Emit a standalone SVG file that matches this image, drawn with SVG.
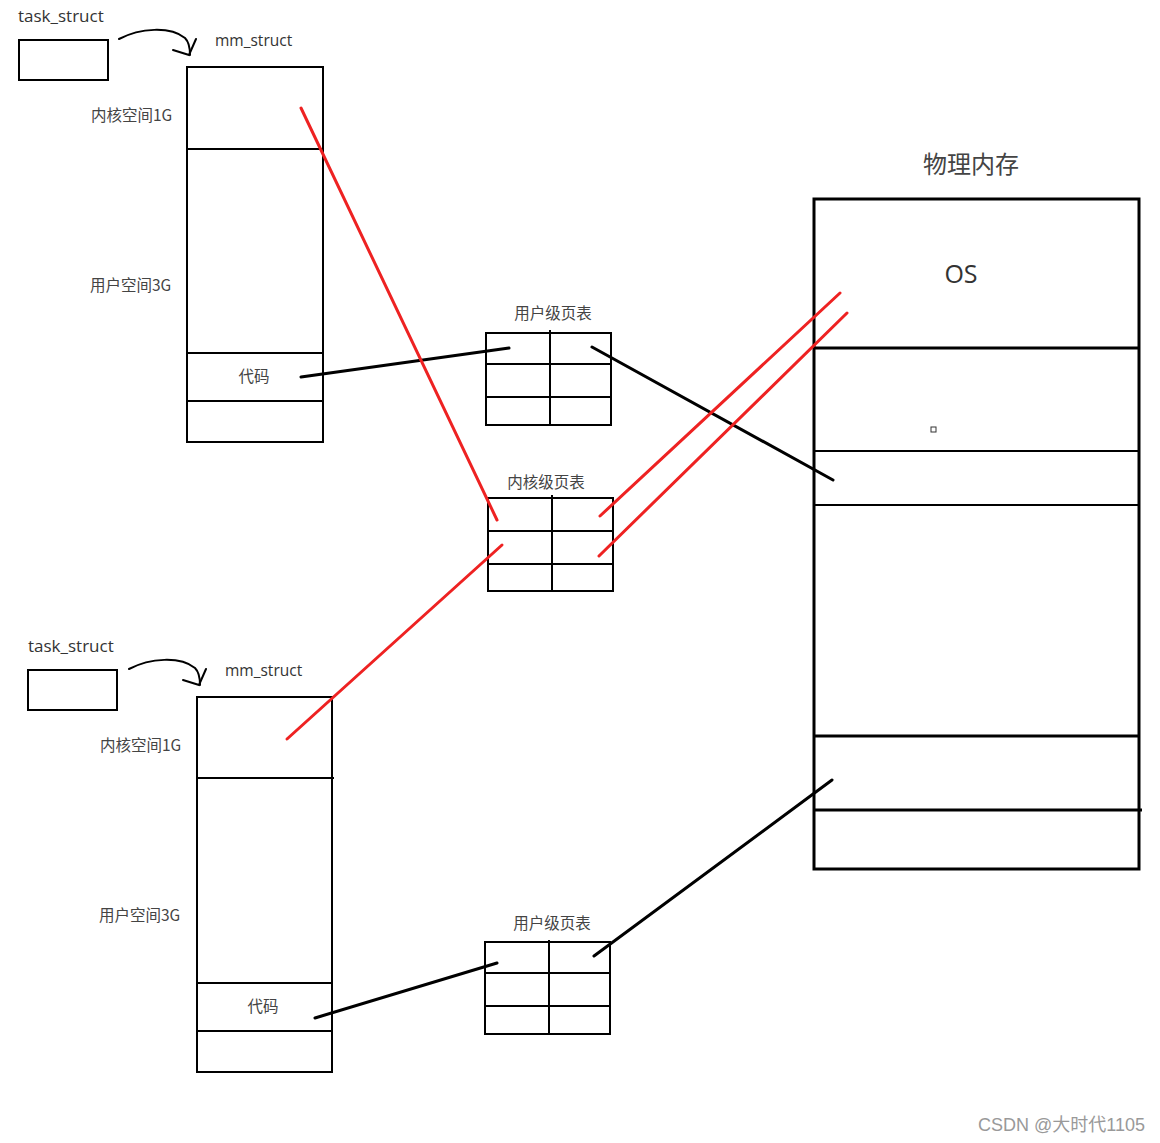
<svg xmlns="http://www.w3.org/2000/svg" width="1160" height="1143" viewBox="0 0 1160 1143">
<style>
.box{fill:none;stroke:#000;stroke-width:2}
.pm{fill:none;stroke:#000;stroke-width:3}
.t{font-family:"Open Sans","Noto Sans CJK SC",sans-serif;fill:#333}
.cn{font-family:"Noto Sans CJK SC",sans-serif;fill:#444;font-size:15.5px}
.red{stroke:#ee2222;stroke-width:3;fill:none;stroke-linecap:round}
.blk{stroke:#000;stroke-width:3;fill:none;stroke-linecap:round}
.arr{stroke:#000;stroke-width:2;fill:none;stroke-linecap:round}
</style>
<rect width="1160" height="1143" fill="#fff"/>

<g id="task1">
<text class="t" x="18" y="22" style="font-size:17px">task_struct</text>
<rect class="box" x="19" y="40" width="89" height="40"/>
</g>
<g id="mm1">
<text class="t" x="215" y="46" style="font-size:15.5px">mm_struct</text>
<rect class="box" x="187" y="67" width="136" height="375"/>
<line class="box" x1="187" y1="149" x2="323" y2="149"/>
<line class="box" x1="187" y1="353" x2="323" y2="353"/>
<line class="box" x1="187" y1="401" x2="323" y2="401"/>
<text class="cn" x="91" y="121">内核空间1G</text>
<text class="cn" x="90" y="291">用户空间3G</text>
<text class="cn" x="254" y="382" text-anchor="middle">代码</text>
</g>

<g id="task2">
<text class="t" x="28" y="652" style="font-size:17px">task_struct</text>
<rect class="box" x="28" y="670" width="89" height="40"/>
</g>
<g id="mm2">
<text class="t" x="225" y="676" style="font-size:15.5px">mm_struct</text>
<rect class="box" x="197" y="697" width="135" height="375"/>
<line class="box" x1="197" y1="778" x2="334" y2="778"/>
<line class="box" x1="197" y1="983" x2="332" y2="983"/>
<line class="box" x1="197" y1="1031" x2="332" y2="1031"/>
<text class="cn" x="100" y="751">内核空间1G</text>
<text class="cn" x="99" y="921">用户空间3G</text>
<text class="cn" x="263" y="1012" text-anchor="middle">代码</text>
</g>

<g id="upt1">
<text class="cn" x="553" y="319" text-anchor="middle">用户级页表</text>
<rect class="box" x="486" y="333" width="125" height="92"/>
<line class="box" x1="550" y1="330" x2="550" y2="425"/>
<line class="box" x1="486" y1="364" x2="611" y2="364"/>
<line class="box" x1="486" y1="397" x2="611" y2="397"/>
</g>

<g id="kpt">
<text class="cn" x="546" y="488" text-anchor="middle">内核级页表</text>
<rect class="box" x="488" y="498" width="125" height="93"/>
<line class="box" x1="552" y1="495" x2="552" y2="591"/>
<line class="box" x1="488" y1="531" x2="613" y2="531"/>
<line class="box" x1="488" y1="564" x2="613" y2="564"/>
</g>

<g id="upt2">
<text class="cn" x="552" y="929" text-anchor="middle">用户级页表</text>
<rect class="box" x="485" y="942" width="125" height="92"/>
<line class="box" x1="549" y1="940" x2="549" y2="1034"/>
<line class="box" x1="485" y1="973" x2="610" y2="973"/>
<line class="box" x1="485" y1="1006" x2="610" y2="1006"/>
</g>

<g id="phys">
<text class="cn" x="971" y="173" text-anchor="middle" style="font-size:24px">物理内存</text>
<rect class="pm" x="814" y="199" width="325" height="670"/>
<line class="pm" x1="814" y1="348" x2="1139" y2="348"/>
<line class="box" x1="814" y1="451" x2="1139" y2="451"/>
<line class="box" x1="814" y1="505" x2="1139" y2="505"/>
<line class="pm" x1="814" y1="736" x2="1139" y2="736"/>
<line class="pm" x1="814" y1="810" x2="1142" y2="810"/>
<text class="t" x="961" y="283" text-anchor="middle" style="font-size:25px">OS</text>
<rect x="931" y="427" width="5" height="5" fill="none" stroke="#333" stroke-width="1"/>
</g>

<g id="connectors">
<path class="arr" d="M119 39 C140 28 170 26 185 38 C190 43 190 50 190 55"/>
<path class="arr" d="M173 50 L189 55 L196 39"/>
<path class="arr" d="M129 669 C150 658 180 656 195 668 C200 673 200 680 200 685"/>
<path class="arr" d="M183 680 L199 685 L206 669"/>
<line class="blk" x1="301" y1="377" x2="509" y2="348"/>
<line class="blk" x1="592" y1="347" x2="833" y2="480"/>
<line class="blk" x1="315" y1="1018" x2="497" y2="963"/>
<line class="blk" x1="594" y1="956" x2="832" y2="780"/>
<line class="red" x1="301" y1="108" x2="497" y2="520"/>
<line class="red" x1="287" y1="739" x2="502" y2="545"/>
<line class="red" x1="600" y1="516" x2="840" y2="293"/>
<line class="red" x1="599" y1="556" x2="847" y2="313"/>
</g>

<text x="1145" y="1131" text-anchor="end" font-family="'Liberation Sans','Noto Sans CJK SC',sans-serif" font-size="18" fill="#999">CSDN @大时代1105</text>
</svg>
